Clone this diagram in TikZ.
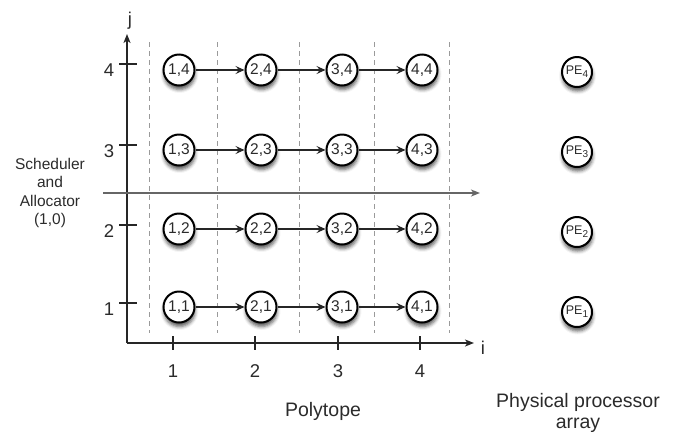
\documentclass[tikz,border=0pt]{standalone}
\usepackage{fontspec}
\setmainfont{Liberation Sans}
\usetikzlibrary{arrows.meta,shadows.blur}
\definecolor{txt}{HTML}{2B2B2B}
\definecolor{dashgray}{HTML}{9A9A9A}
\begin{document}
\begin{tikzpicture}[x=1pt,y=-1pt,
  gridnode/.style={circle, draw=black, line width=2pt, fill=white, minimum size=31pt, inner sep=0pt,
    text=txt, font=\fontsize{15.5}{15.5}\selectfont,
    blur shadow={shadow xshift=0.5pt, shadow yshift=-4pt, shadow blur radius=3.5pt, shadow opacity=65}},
  penode/.style={gridnode, minimum size=30pt, font=\fontsize{12.5}{12.5}\selectfont},
  flow/.style={line width=1.7pt, draw=black!85, -{Stealth[length=9pt,width=8pt,inset=3.5pt]}},
  axis/.style={line width=1.5pt, draw=black!85, -{Stealth[length=9pt,width=7pt,inset=2.5pt]}},
  tick/.style={line width=1.3pt, draw=black!85},
  sched/.style={line width=1.3pt, draw=black!60, -{Stealth[length=9pt,width=7pt,inset=2.5pt]}},
  guide/.style={line width=0.9pt, draw=dashgray, dash pattern=on 5pt off 4pt},
  lbl/.style={text=txt, font=\fontsize{18.5}{18.5}\selectfont},
  caption/.style={text=txt, font=\fontsize{19.5}{19.5}\selectfont},
]
\useasboundingbox (0,0) rectangle (676,432);

% dashed guides
\foreach \gx in {149,217,299,374,449}
  \draw[guide] (\gx,42) -- (\gx,333);

% axes
\coordinate (O) at (127,343);
\coordinate (ytop) at (127,34);
\coordinate (xend) at (474,343);
\draw[axis] (O) -- (ytop);
\draw[axis] (O) -- (xend);
\node[lbl] (jl) at (130,21) {j};
\node[lbl] (il) at (483,348) {i};

% y ticks and labels
\foreach \ty/\tl in {64/4,145/3,225/2,303/1}{
  \draw[tick] (119,\ty) -- (137,\ty);
  \node[lbl] at (109,\ty+6) {\tl};
}
% x ticks and labels
\foreach \tx/\tl in {173/1,255/2,338/3,420/4}{
  \draw[tick] (\tx,336) -- (\tx,350);
  \node[lbl] at (\tx,371) {\tl};
}

% scheduler line
\coordinate (sl) at (103,193);
\coordinate (sr) at (480,193);
\draw[sched] (sl) -- (sr);
\node[text=txt, align=center, font=\fontsize{15.5}{18.3}\selectfont] (schedtxt) at (50,193) {Scheduler\\and\\Allocator\\(1,0)};

% grid nodes
\foreach \i/\x in {1/179,2/261,3/342,4/422}
  \foreach \j/\y in {1/307,2/229,3/150,4/70}
    \node[gridnode] (n\i\j) at (\x,\y) {\i,\j};

% arrows
\foreach \j in {1,2,3,4}{
  \draw[flow] (n1\j) -- (n2\j);
  \draw[flow] (n2\j) -- (n3\j);
  \draw[flow] (n3\j) -- (n4\j);
}

% processor elements
\foreach \k/\y in {1/312,2/232,3/152,4/72}
  \node[penode] (pe\k) at (577,\y) {PE\raisebox{-3pt}{\fontsize{10}{10}\selectfont\k}};

% captions
\node[caption] (poly) at (323,411) {Polytope};
\node[caption, anchor=base] (phys1) at (578,407) {Physical processor};
\node[caption, anchor=base] (phys2) at (578,428) {array};
\end{tikzpicture}
\end{document}
